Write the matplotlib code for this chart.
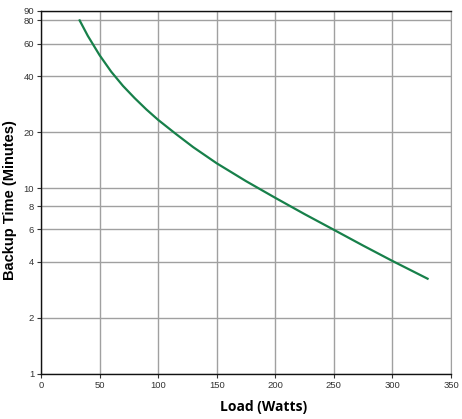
import matplotlib
matplotlib.use("Agg")
import matplotlib.pyplot as plt
from matplotlib.ticker import FixedLocator, NullLocator, FixedFormatter

# load in watts, backup time in minutes
load = [33, 40, 50, 60, 70, 80, 90, 100, 115, 130, 150, 175, 200, 225, 250, 275, 300, 330]
backup = [80, 66, 52, 42.3, 35.5, 30.5, 26.5, 23.3, 19.6, 16.6, 13.6, 10.9, 8.86, 7.24,
          5.96, 4.9, 4.05, 3.25]

x_ticks = [0, 50, 100, 150, 200, 250, 300, 350]
y_ticks = [1, 2, 4, 6, 8, 10, 20, 40, 60, 80, 90]

fig = plt.figure(figsize=(4.62, 4.19), dpi=100)
ax = fig.add_axes([0.0887, 0.108, 0.8875, 0.866])

ax.plot(load, backup, color="#17804a", lw=1.6, zorder=3)

ax.set_yscale("log")
ax.set_xlim(0, 350)
ax.set_ylim(1, 90)
ax.xaxis.set_major_locator(FixedLocator(x_ticks))
ax.yaxis.set_major_locator(FixedLocator(y_ticks))
ax.yaxis.set_minor_locator(NullLocator())
ax.yaxis.set_major_formatter(FixedFormatter([str(v) for v in y_ticks]))

ax.grid(True, color="#a0a0a0", lw=1.0)
ax.set_axisbelow(True)
for side in ["left", "bottom", "top"]:
    ax.spines[side].set_color("#111111")
    ax.spines[side].set_linewidth(1.0)
ax.spines["right"].set_color("#a0a0a0")

ax.tick_params(axis="both", labelsize=6.8, colors="#333333", length=3, width=0.8, pad=2)
for lab in ax.get_xticklabels() + ax.get_yticklabels():
    lab.set_family("Liberation Sans")

ax.set_xlabel("Load (Watts)", fontsize=10, fontweight="bold", family="Open Sans")
ax.set_ylabel("Backup Time (Minutes)", fontsize=10.5, fontweight="bold", family="Liberation Sans")
ax.xaxis.label.set_va("center")
ax.yaxis.label.set_va("center")
ax.xaxis.set_label_coords(0.544, -0.092)
ax.yaxis.set_label_coords(-0.076, 0.48)

fig.savefig("out.png", dpi=100)
